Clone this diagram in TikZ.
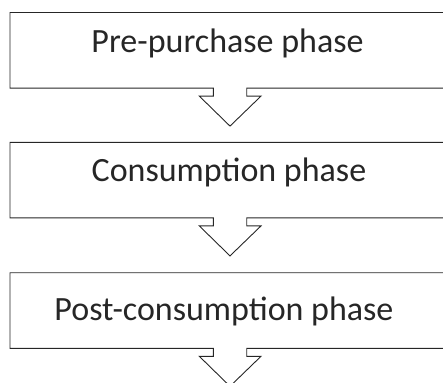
\documentclass[tikz,border=0pt]{standalone}
\usepackage{fontspec}
\setmainfont{Carlito}
\usetikzlibrary{positioning}
\tikzset{phase/.style={anchor=base, inner sep=0pt, text=black!85, font=\fontsize{34}{40}\selectfont}}

\begin{document}
\begin{tikzpicture}[x=1pt, y=-1pt, line width=0.9pt, draw=black!85]
        \useasboundingbox (0,0) rectangle (443,382);
        \clip (0,0) rectangle (443,382);

        % boxes, each with its arrow underneath
        \foreach \ty in {12.5,142.3,272.7} {
            \draw (460,\ty) -- (10,\ty) -- (10,\ty+75.6) -- (213.3,\ty+75.6)
                -- (213.3,\ty+83.6) -- (199.3,\ty+83.6) -- (230,\ty+113.6)
                -- (261,\ty+83.6) -- (246.7,\ty+83.6) -- (246.7,\ty+75.6) -- (460,\ty+75.6);
        }

        % phases
        \node [phase] (pre) at (227.5,52.7) {Pre-purchase phase};
        \node [phase] (cons) at (229,181.7) {Consumption phase};
        \node [phase] (post) at (224,320) {Post-consumption phase};
    \end{tikzpicture}
\end{document}
